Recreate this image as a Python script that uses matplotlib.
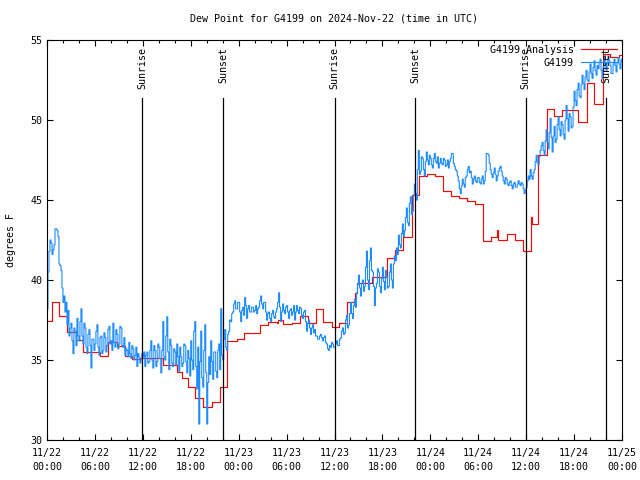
import numpy as np
import matplotlib
matplotlib.use("Agg")
import matplotlib.pyplot as plt

# station readings, one every 7.5 minutes from 2024-11-22 00:00 UTC (one row per hour)
blue_vals = [
    38.2, 40.5, 41.8, 42.5, 42.3, 41.6, 41.9, 42.2,
    43.2, 43.2, 43.1, 42.7, 41.0, 40.9, 40.6, 39.5,
    38.6, 39.0, 38.0, 38.6, 37.2, 38.1, 36.5, 37.0,
    37.3, 36.2, 35.4, 37.0, 36.8, 35.9, 37.6, 36.5,
    36.2, 37.4, 38.2, 36.5, 36.0, 37.3, 37.0, 35.8,
    35.4, 36.6, 36.9, 35.9, 34.5, 36.3, 36.3, 35.6,
    36.0, 36.8, 37.2, 35.8, 35.3, 36.4, 36.5, 35.4,
    35.6, 36.7, 36.4, 35.5, 35.9, 36.9, 37.1, 36.0,
    36.2, 35.6, 37.3, 36.1, 35.8, 36.9, 36.6, 35.7,
    36.0, 37.1, 37.0, 35.9, 35.8, 36.4, 35.3, 35.7,
    35.6, 35.2, 36.1, 35.4, 35.1, 35.9, 35.7, 35.0,
    35.3, 35.8, 34.6, 35.4, 35.2, 34.8, 35.0, 35.4,
    35.2, 35.5, 34.6, 35.3, 35.5, 34.8, 34.9, 35.6,
    36.2, 35.0, 34.5, 35.9, 35.6, 34.6, 34.9, 36.0,
    35.8, 35.1, 34.2, 35.6, 37.4, 35.2, 35.0, 36.5,
    37.7, 35.5, 34.4, 36.3, 35.9, 34.8, 34.6, 35.7,
    35.5, 34.7, 36.0, 35.2, 34.3, 35.8, 35.2, 34.6,
    34.8, 36.0, 35.9, 34.9, 34.2, 35.6, 35.1, 34.0,
    36.2, 35.0, 34.4, 36.8, 37.4, 34.6, 33.2, 35.8,
    31.0, 34.9, 36.8, 33.9, 33.3, 35.6, 37.2, 34.2,
    31.0, 33.6, 35.2, 34.1, 36.2, 34.9, 33.8, 35.5,
    35.5, 34.3, 33.9, 35.6, 36.0, 34.4, 38.2, 35.3,
    35.0, 36.3, 36.9, 35.8, 35.6, 36.6, 36.8, 37.5,
    37.4, 37.9, 38.0, 38.5, 38.7, 38.2, 38.2, 38.6,
    38.6, 38.0, 37.4, 38.1, 38.3, 37.8, 38.9, 38.4,
    37.6, 38.2, 38.4, 38.0, 38.0, 38.3, 38.3, 38.0,
    38.1, 38.4, 37.9, 38.2, 38.3, 38.7, 39.0, 38.5,
    38.2, 38.6, 38.6, 38.0, 37.5, 37.9, 38.0, 37.6,
    37.4, 37.9, 38.1, 37.7, 37.6, 38.0, 38.2, 38.6,
    39.2, 38.3, 37.4, 38.0, 38.5, 38.1, 37.9, 38.3,
    38.4, 38.0, 37.6, 38.1, 38.2, 37.8, 38.0, 38.4,
    37.5, 38.0, 38.4, 38.1, 37.9, 38.3, 38.2, 37.8,
    37.6, 38.0, 38.1, 37.4, 36.8, 37.3, 37.5, 37.0,
    36.6, 37.0, 37.2, 36.7, 36.9, 36.5, 36.5, 36.3,
    36.3, 36.5, 36.6, 36.4, 36.2, 36.4, 36.5, 36.1,
    36.0, 35.7, 35.6, 35.9, 35.8, 36.1, 36.0, 35.8,
    35.8, 36.0, 36.2, 35.9, 35.9, 36.3, 36.4, 36.8,
    37.0, 36.6, 36.7, 37.5, 37.8, 37.0, 37.2, 37.9,
    38.6, 37.9, 37.6, 38.4, 38.8, 38.3, 39.2, 39.7,
    40.3, 39.5, 39.0, 39.8, 40.0, 39.3, 39.6, 40.8,
    41.8, 40.0, 39.4, 41.2, 42.0, 40.6, 40.5, 39.6,
    38.4, 39.5, 39.8, 40.7, 40.5, 39.6, 39.2, 40.1,
    40.8, 39.9, 39.4, 40.6, 40.2, 39.5, 39.6, 40.5,
    41.0, 40.0, 39.5, 41.0, 41.5, 41.2, 42.0, 41.6,
    42.8, 42.2, 42.0, 42.9, 43.5, 42.7, 43.1, 43.9,
    44.5, 43.6, 43.4, 44.8, 45.2, 44.1, 44.3, 45.3,
    46.0, 45.4, 45.0, 46.9, 48.1, 46.6, 46.8, 47.7,
    47.6, 46.9, 46.5, 47.4, 48.0, 47.5, 47.2, 47.8,
    47.6, 47.2, 47.0, 47.6, 47.9, 47.4, 47.3, 47.7,
    47.0, 47.3, 47.6, 47.3, 47.2, 47.6, 47.5, 47.1,
    47.2, 47.5, 47.0, 47.4, 47.6, 47.9, 47.9, 47.3,
    47.1, 46.9, 46.8, 46.5, 46.2, 45.7, 45.4, 45.9,
    46.3, 46.0, 45.8, 46.4, 46.5, 46.9, 47.1, 46.7,
    46.8, 46.4, 46.0, 46.3, 46.5, 46.2, 46.1, 46.4,
    46.4, 46.1, 46.0, 46.3, 46.5, 46.0, 46.2, 46.8,
    47.9, 47.9, 47.8, 47.3, 46.9, 46.6, 46.4, 46.7,
    47.0, 46.6, 46.2, 46.5, 46.8, 47.0, 47.1, 46.8,
    46.5, 46.2, 46.0, 46.4, 46.3, 46.0, 45.9, 46.1,
    46.2, 45.9, 45.7, 46.0, 46.1, 45.8, 45.8, 46.0,
    46.2, 46.0, 45.9, 46.1, 46.0, 45.7, 45.4, 45.6,
    45.8, 46.2, 46.5, 46.3, 46.9, 46.5, 46.3, 46.7,
    46.9, 47.4, 47.8, 47.3, 47.2, 47.7, 48.1, 48.4,
    48.6, 48.1, 47.8, 48.7, 49.4, 48.6, 48.2, 49.2,
    50.1, 48.9, 48.0, 49.0, 49.6, 48.6, 48.8, 49.7,
    50.2, 49.4, 49.0, 49.9, 49.7, 49.1, 48.8, 50.0,
    50.9, 50.1, 49.3, 50.4, 50.2, 49.5, 49.6, 50.8,
    51.8, 51.2, 50.9, 51.9, 52.3, 51.5, 51.4, 52.2,
    52.8, 52.3, 51.9, 52.7, 53.1, 52.5, 52.4, 53.0,
    53.5, 52.9, 52.6, 53.3, 53.7, 53.1, 52.8, 53.4,
    53.2, 53.6, 53.8, 53.1, 52.6, 53.3, 53.9, 53.5,
    53.1, 53.6, 54.0, 53.7, 53.4, 52.9, 52.9, 53.5,
    53.8, 53.4, 53.0, 53.6, 53.9, 53.5, 53.2, 53.8,
    53.6,
]
blue_hours = [i * 0.125 for i in range(len(blue_vals))]

# analysis steps: start hour, value
red_hours = [0, 0.6, 1.55, 2.46, 3.59, 4.55, 6.64, 7.68, 8.72, 9.77, 10.68, 11.7,
             14.57, 16.24, 16.86, 17.7, 18.53, 19.57, 20.62, 21.66, 22.58, 23.75,
             24.67, 26.67, 27.71, 28.76, 28.97, 29.6, 30.64, 31.68, 32.72, 33.68,
             34.6, 35.65, 36.6, 37.53, 38.57, 38.78, 40.66, 42.62, 43.58, 44.62,
             45.66, 46.62, 47.62, 48.59, 49.55, 50.55, 51.63, 52.55, 53.59, 54.64,
             55.56, 56.3, 56.45, 57.64, 58.6, 59.6, 60.57, 60.69, 61.52, 62.57,
             63.49, 64.53, 66.55, 67.6, 68.55, 69.6, 70.5, 71.6, 72]
red_vals = [37.44, 38.6, 37.73, 36.73, 36.25, 35.5, 35.23, 36.1, 35.9, 35.23, 35.06, 35.1,
            34.69, 34.27, 33.85, 33.29, 32.6, 32.04, 32.35, 33.29, 36.2, 36.3,
            36.67, 37.19, 37.4, 37.3, 37.5, 37.25, 37.33, 37.77, 37.3, 38.17,
            37.35, 37.08, 37.3, 38.65, 39.17, 39.83, 40.17, 41.375, 41.9, 42.67,
            45.31, 46.5, 46.63, 46.5, 45.58, 45.25, 45.1, 44.94, 44.75, 42.44,
            42.71, 43.1, 42.5, 42.85, 42.5, 41.8, 43.92, 43.5, 47.8, 50.67,
            50.25, 50.6, 49.9, 52.3, 51.0, 54.1, 53.95, 54.05, 54.05]

sun_hours = [11.93, 22.08, 36.0, 46.12, 59.92, 70.05]
sun_labels = ["Sunrise", "Sunset", "Sunrise", "Sunset", "Sunrise", "Sunset"]

tick_hours = list(range(0, 73, 6))
tick_labels = ["11/22\n00:00", "11/22\n06:00", "11/22\n12:00", "11/22\n18:00",
               "11/23\n00:00", "11/23\n06:00", "11/23\n12:00", "11/23\n18:00",
               "11/24\n00:00", "11/24\n06:00", "11/24\n12:00", "11/24\n18:00",
               "11/25\n00:00"]

plt.rcParams['font.family'] = ['DejaVu Sans Mono']
fs = 7.2

fig = plt.figure(figsize=(6.4, 4.8), dpi=100)
ax = fig.add_axes([47 / 640, 40 / 480, 575 / 640, 400 / 480])

ax.step(red_hours, red_vals, where='post', color='#ff0000', lw=0.85, label='G4199 Analysis')
ax.step(blue_hours, blue_vals, where='post', color='#1e8cff', lw=0.8, label='G4199')

# sunrise / sunset markers
for h, lab in zip(sun_hours, sun_labels):
    ax.plot([h, h], [30, 51.35], color='black', lw=0.9)
    ax.text(h, 54.55, lab, rotation=90, ha='center', va='top', fontsize=fs)

ax.set_xlim(0, 72)
ax.set_ylim(30, 55)
ax.set_xticks(tick_hours)
ax.set_xticklabels(tick_labels, fontsize=fs, linespacing=1.5)
ax.set_xticks(np.arange(0, 73, 2), minor=True)
ax.set_yticks([30, 35, 40, 45, 50, 55])
ax.tick_params(axis='y', labelsize=fs)
ax.tick_params(which='both', direction='in', top=True, right=True, width=0.8)
ax.tick_params(which='major', length=4)
ax.tick_params(which='minor', length=2.2)
ax.tick_params(axis='x', pad=6)
for s in ax.spines.values():
    s.set_linewidth(0.8)

ax.set_ylabel('degrees F', fontsize=fs, labelpad=10)
ax.set_title('Dew Point for G4199 on 2024-Nov-22 (time in UTC)', fontsize=fs, pad=13)

ax.legend(loc='upper right', frameon=False, markerfirst=False, fontsize=fs,
          handlelength=3.6, handletextpad=0.7, borderaxespad=0.1,
          labelspacing=0.3)

plt.savefig('out.png', dpi=100)
